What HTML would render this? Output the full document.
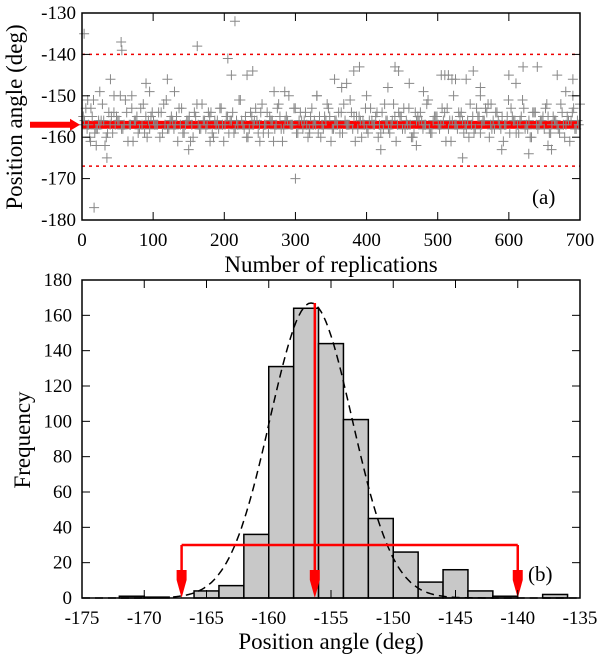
<!DOCTYPE html>
<html><head><meta charset="utf-8"><style>
body{margin:0;background:#fff}
svg text{font-family:"Liberation Serif","Times New Roman","Noto Serif CJK SC","DejaVu Serif",serif !important;fill:#000}
</style></head><body>
<svg id="c" width="600" height="658" xmlns="http://www.w3.org/2000/svg"></svg>
<script>
// Panel (a) data
const posMain = [-157,-153,-160,-151,-158,-156,-162,-154,-159,-155,-150,-157,-161,-153,-156,-158,-152,-160,-155,-157,
-154,-159,-151,-156,-158,-161,-153,-157,-155,-160,-152,-158,-156,-154,-159,-157,-153,-161,-155,-156,
-158,-151,-157,-160,-154,-156,-159,-152,-157,-155,-161,-153,-158,-156,-150,-157,-159,-154,-156,-160,
-153,-157,-155,-158,-152,-161,-156,-154,-159,-157,-151,-155,-158,-160,-153,-156,-157,-154,-159,-152,
-158,-156,-161,-155,-153,-157,-160,-154,-156,-158,-152,-159,-155,-157,-153,-161,-156,-150,-158,-154,
-157,-160,-155,-153,-159,-156,-152,-158,-154,-157,-161,-155,-153,-156,-159,-151,-157,-160,-154,-158,
-156,-153,-159,-155,-157,-152,-160,-156,-154,-158];
const posMain2 = [-155,-158,-153,-159,-156,-152,-160,-157,-154,-156,-158,-151,-157,-161,-155,-153,-159,-156,-154,-157,
-160,-152,-158,-155,-157,-153,-159,-156,-161,-154,-157,-152,-158,-155,-160,-156,-153,-157,-159,-154,
-156,-151,-158,-160,-155,-153,-157,-159,-154,-156,-158,-152,-161,-155,-157,-153,-159,-156,-154,-158,
-157,-150,-160,-155,-153,-158,-156,-159,-152,-157,-154,-161,-155,-156,-158,-153,-157,-160,-154,-156,
-159,-152,-157,-155,-158,-153,-160,-156,-154,-157,-151,-159,-155,-158,-156,-153,-161,-157,-154,-156,
-158,-152,-159,-155,-157,-153,-160,-156,-154,-158,-157,-151,-155,-159,-156,-153,-158,-160,-154,-157,
-155,-152,-159,-156,-158,-154,-157,-161,-153,-156];
const posMain3 = [-156,-157,-155,-158,-157,-156,-159,-155,-157,-156,-158,-154,-157,-156,-159,-157,-155,-158,-156,-157,
-154,-157,-158,-156,-155,-157,-159,-156,-157,-155,-158,-156,-157,-154,-156,-158,-157,-155,-156,-159,
-157,-156,-155,-158,-157,-156,-154,-157,-159,-156,-157,-155,-158,-156,-157,-153,-156,-158,-157,-155,
-156,-159,-157,-156,-155,-158,-157,-154,-156,-157,-158,-155,-156,-157,-159,-156,-155,-157,-158,-156,
-157,-155,-154,-158,-156,-157,-159,-155,-156,-157,-158,-156,-155,-157,-154,-158,-156,-157,-155,-159,
-156,-157,-158,-155,-156,-154,-157,-158,-156,-155,-157,-159,-156,-157,-155,-158,-156,-154,-157,-156,
-158,-155,-157,-156,-159,-157,-155,-156,-158,-157];
const outRep = [3,8,17,25,35,40,55,56,90,95,120,162,205,210,215,232,240,300,355,382,390,400,440,445,460,510,520,535,540,550,600,620,640,680,690,12,70,130,180,250,270,330,420,470,590,655,20,45,150,285,320,430,480,560,610,660,365,372,505,515,525,560,575,628,668,690,700];
const outVal = [-135,-151,-177,-149,-165,-146,-137,-139,-147,-149,-146,-138,-141,-145,-132,-145,-144,-170,-146,-144,-143,-150,-143,-144,-147,-145,-146,-165,-146,-144,-145,-143,-143,-149,-146,-161,-150,-149,-161,-161,-149,-150,-163,-162,-163,-162,-162,-150,-163,-149,-159,-148,-149,-148,-147,-163,-148,-147,-145,-145,-146,-150,-152,-164,-145,-150,-152];
const medianA = -157, limLow = -167, limHigh = -140;

// Panel (b) data
const binStart = [-172,-170,-166,-164,-162,-160,-158,-156,-154,-152,-150,-148,-146,-144,-142,-138];
const freq = [1,0.5,4,7,36,131,164,144,101,45,26,9,16,4,1,2];
const gaussPeak = 167, gaussMu = -156.6, gaussSigma = 3.3;
const arrowsB = [-167,-156.3,-140];
const bracketFreq = 30;

const S = document.getElementById('c');
const NS = 'http://www.w3.org/2000/svg';
function mk(t, a, parent){const e=document.createElementNS(NS,t);for(const k in a)e.setAttribute(k,a[k]);if(t==='text')e.setAttribute('font-family','"Liberation Serif", "Noto Serif CJK SC", serif');(parent||S).appendChild(e);return e;}

const ax = v => 82 + (v/700)*498;
const ay = v => 13 + ((-130 - v)/50)*207;
const ga = mk('g',{});


[limHigh, limLow].forEach(v=>{
  const l = mk('line',{x1:82,x2:580,y1:ay(v),y2:ay(v),stroke:'#e00','stroke-width':1.5,'stroke-dasharray':'3,4'},ga);
  
  
});
const band = mk('rect',{x:82,y:ay(medianA)-4,width:498,height:8,fill:'#f00'},ga);


function cross(x,y,g){
  const p = mk('path',{d:`M${x-5},${y}h10M${x},${y-5}v10`,stroke:'#888','stroke-width':1,fill:'none'},g);
  
  
}
[posMain,posMain2,posMain3].forEach((arr,k)=>{
  const step = 700/arr.length;
  arr.forEach((v,i)=>cross(ax(i*step+k*step/3),ay(v),ga));
});
outRep.forEach((r,i)=>cross(ax(r),ay(outVal[i]),ga));
const arA = mk('path',{d:`M30,${ay(medianA)-3}h40v-3l10,6l-10,6v-3h-40z`,fill:'#f00'},ga);


const fa = mk('rect',{x:82,y:13,width:498,height:207,fill:'none',stroke:'#000','stroke-width':1.5},ga);


[-130,-140,-150,-160,-170,-180].forEach(v=>{
  const y=ay(v);
  mk('line',{x1:82,x2:90,y1:y,y2:y,stroke:'#000'},ga);
  mk('line',{x1:572,x2:580,y1:y,y2:y,stroke:'#000'},ga);
  const t=mk('text',{x:76,y:y+6,'text-anchor':'end','font-size':19},ga);t.textContent=v;
  
  
});
[0,100,200,300,400,500,600,700].forEach(v=>{
  const x=ax(v);
  mk('line',{x1:x,x2:x,y1:220,y2:212,stroke:'#000'},ga);
  mk('line',{x1:x,x2:x,y1:13,y2:21,stroke:'#000'},ga);
  const t=mk('text',{x:x,y:246,'text-anchor':'middle','font-size':19},ga);t.textContent=v;
  
  
});
let t=mk('text',{x:331,y:272,'text-anchor':'middle','font-size':23},ga);t.textContent='Number of replications';


t=mk('text',{x:0,y:0,'text-anchor':'middle','font-size':23,transform:'translate(22,117) rotate(-90)'},ga);t.textContent='Position angle (deg)';


t=mk('text',{x:532,y:204,'font-size':21},ga);t.textContent='(a)';



const bx = v => 82 + ((v+175)/40)*498;
const by = v => 598 - (v/180)*318;
const gb = mk('g',{});


binStart.forEach((b,i)=>{
  const r = mk('rect',{x:bx(b),y:by(freq[i]),width:bx(b+2)-bx(b),height:598-by(freq[i]),fill:'#c8c8c8',stroke:'#000','stroke-width':1.5},gb);
  
  
});
let d='';
for(let v=-175;v<=-135;v+=0.2){
  const f=gaussPeak*Math.exp(-0.5*Math.pow((v-gaussMu)/gaussSigma,2));
  d+=(d?'L':'M')+bx(v).toFixed(1)+','+by(f).toFixed(1);
}
const gc = mk('path',{d:d,fill:'none',stroke:'#000','stroke-width':1.5,'stroke-dasharray':'8,5'},gb);


const yb = by(bracketFreq);
const br = mk('path',{d:`M${bx(arrowsB[0])},${yb}H${bx(arrowsB[2])}M${bx(arrowsB[0])},${yb}V585M${bx(arrowsB[2])},${yb}V585M${bx(arrowsB[1])},${by(gaussPeak)}V585`,stroke:'#f00','stroke-width':2.5,fill:'none'},gb);


arrowsB.forEach(v=>{
  const x=bx(v);
  const a=mk('path',{d:`M${x-5},570h10v10l-5,18l-5,-18z`,fill:'#f00'},gb);
  
  
});
const fb = mk('rect',{x:82,y:280,width:498,height:318,fill:'none',stroke:'#000','stroke-width':1.5},gb);


[0,20,40,60,80,100,120,140,160,180].forEach(v=>{
  const y=by(v);
  mk('line',{x1:82,x2:90,y1:y,y2:y,stroke:'#000'},gb);
  mk('line',{x1:572,x2:580,y1:y,y2:y,stroke:'#000'},gb);
  const t=mk('text',{x:72,y:y+6,'text-anchor':'end','font-size':19},gb);t.textContent=v;
  
  
});
[-175,-170,-165,-160,-155,-150,-145,-140,-135].forEach(v=>{
  const x=bx(v);
  mk('line',{x1:x,x2:x,y1:598,y2:590,stroke:'#000'},gb);
  mk('line',{x1:x,x2:x,y1:280,y2:288,stroke:'#000'},gb);
  const t=mk('text',{x:x,y:624,'text-anchor':'middle','font-size':19},gb);t.textContent=v;
  
  
});
t=mk('text',{x:331,y:649,'text-anchor':'middle','font-size':23},gb);t.textContent='Position angle (deg)';


t=mk('text',{x:0,y:0,'text-anchor':'middle','font-size':23,transform:'translate(30,440) rotate(-90)'},gb);t.textContent='Frequency';


t=mk('text',{x:528,y:581,'font-size':21},gb);t.textContent='(b)';


</script>
</body></html>
